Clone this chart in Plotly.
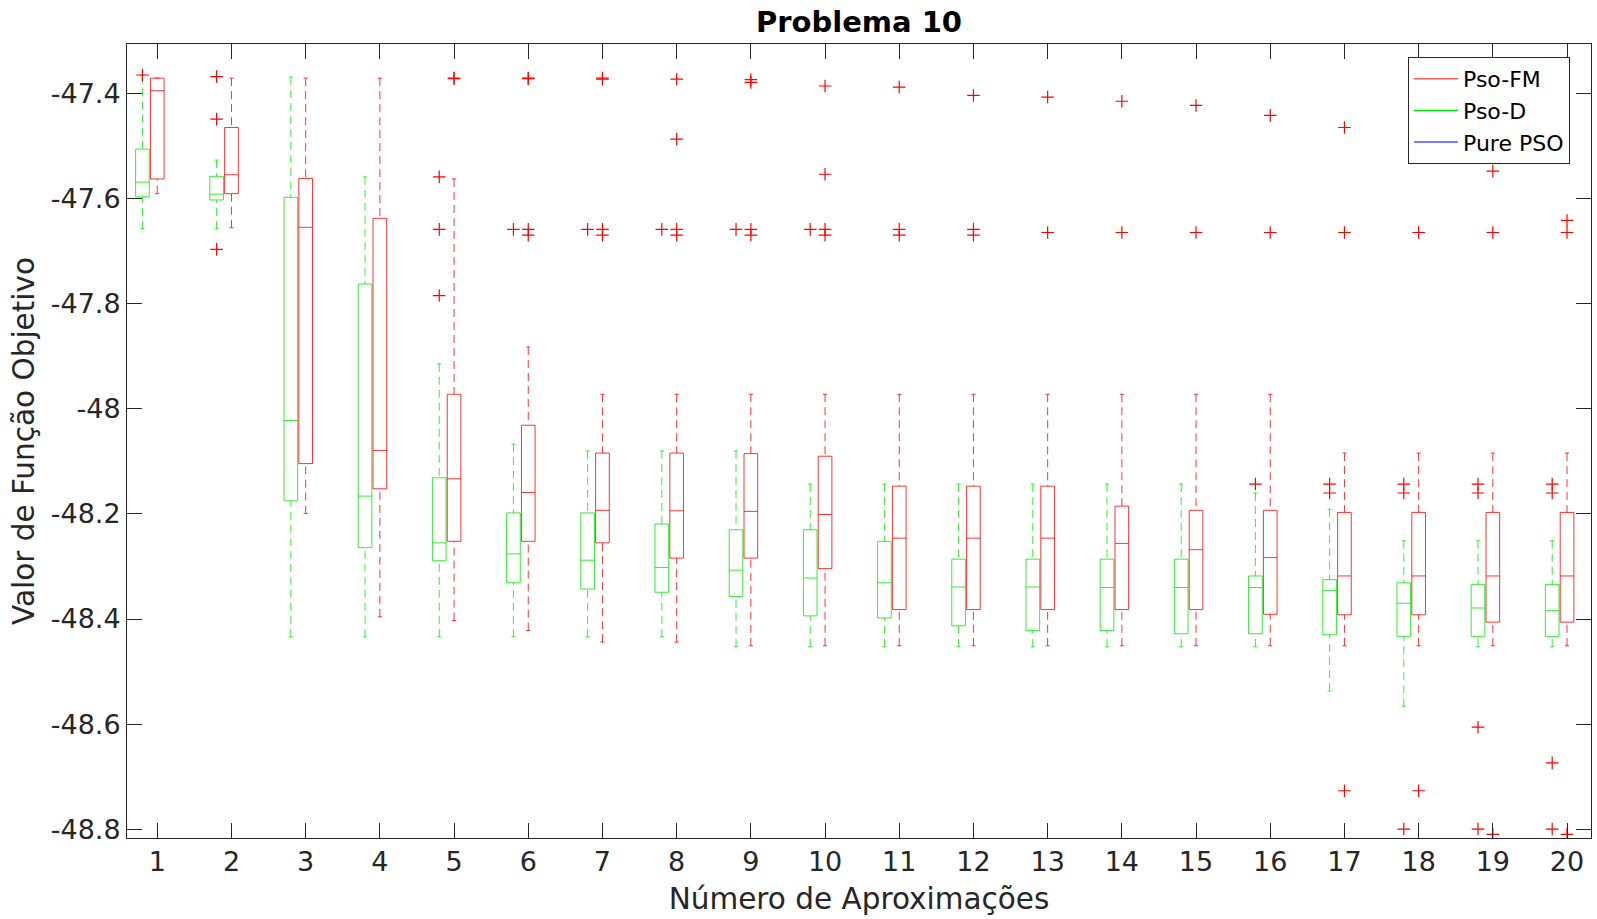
import plotly.graph_objects as go

groups = list(range(1, 21))
tick_labels = [str(g) for g in groups]
y_tick_vals = [-47.4, -47.6, -47.8, -48.0, -48.2, -48.4, -48.6, -48.8]
y_tick_text = ["-47.4", "-47.6", "-47.8", "-48", "-48.2", "-48.4", "-48.6", "-48.8"]

# Pso-D (green)
d_hi = [-47.365, -47.526, -47.368, -47.558, -47.914, -48.067, -48.080, -48.080, -48.080, -48.143,
        -48.143, -48.143, -48.143, -48.143, -48.143, -48.160, -48.191, -48.251, -48.251, -48.251]
d_q3 = [-47.505, -47.557, -47.597, -47.762, -48.131, -48.198, -48.198, -48.219, -48.230, -48.230,
        -48.252, -48.286, -48.286, -48.286, -48.286, -48.318, -48.325, -48.331, -48.334, -48.334]
d_med = [-47.568, -47.591, -48.022, -48.166, -48.255, -48.276, -48.288, -48.302, -48.307, -48.322,
         -48.331, -48.339, -48.339, -48.340, -48.340, -48.340, -48.346, -48.370, -48.379, -48.384]
d_q1 = [-47.596, -47.602, -48.175, -48.264, -48.289, -48.331, -48.343, -48.349, -48.357, -48.394,
        -48.398, -48.413, -48.422, -48.422, -48.428, -48.428, -48.430, -48.433, -48.433, -48.433]
d_lo = [-47.657, -47.657, -48.434, -48.434, -48.434, -48.434, -48.434, -48.434, -48.453, -48.453,
        -48.453, -48.453, -48.453, -48.453, -48.453, -48.453, -48.537, -48.566, -48.453, -48.453]
d_out = {
    1: [-47.364],
    2: [-47.367, -47.448, -47.696],
    5: [-47.558, -47.658, -47.784],
    6: [-47.658],
    7: [-47.658],
    8: [-47.658],
    9: [-47.658],
    10: [-47.658],
    16: [-48.143],
    17: [-48.143, -48.160],
    18: [-48.143, -48.160, -48.800],
    19: [-48.143, -48.160, -48.606, -48.800],
    20: [-48.143, -48.160, -48.674, -48.800],
}

# Pso-FM (red)
fm_hi = [-47.370, -47.370, -47.370, -47.370, -47.562, -47.882, -47.972, -47.972, -47.972, -47.972,
         -47.972, -47.972, -47.972, -47.972, -47.972, -47.972, -48.084, -48.084, -48.084, -48.084]
fm_q3 = [-47.370, -47.464, -47.561, -47.637, -47.972, -48.031, -48.084, -48.084, -48.085, -48.090,
         -48.147, -48.147, -48.147, -48.185, -48.193, -48.193, -48.197, -48.197, -48.197, -48.197]
fm_med = [-47.394, -47.554, -47.654, -48.079, -48.133, -48.159, -48.193, -48.194, -48.195, -48.201,
          -48.246, -48.246, -48.246, -48.256, -48.268, -48.283, -48.318, -48.318, -48.318, -48.318]
fm_q1 = [-47.562, -47.590, -48.104, -48.152, -48.252, -48.252, -48.255, -48.284, -48.284, -48.304,
         -48.382, -48.382, -48.382, -48.382, -48.382, -48.391, -48.392, -48.392, -48.406, -48.406]
fm_lo = [-47.590, -47.655, -48.199, -48.396, -48.403, -48.422, -48.444, -48.444, -48.451, -48.451,
         -48.451, -48.451, -48.451, -48.451, -48.451, -48.451, -48.451, -48.451, -48.451, -48.451]
fm_out = {
    5: [-47.370, -47.371],
    6: [-47.370, -47.371, -47.658, -47.669],
    7: [-47.370, -47.372, -47.658, -47.669],
    8: [-47.372, -47.486, -47.658, -47.669],
    9: [-47.373, -47.378, -47.658, -47.669],
    10: [-47.385, -47.553, -47.658, -47.669],
    11: [-47.387, -47.658, -47.669],
    12: [-47.403, -47.658, -47.669],
    13: [-47.406, -47.664],
    14: [-47.414, -47.664],
    15: [-47.422, -47.664],
    16: [-47.441, -47.664],
    17: [-47.464, -47.664, -48.727],
    18: [-47.664, -48.727],
    19: [-47.547, -47.664, -48.810],
    20: [-47.641, -47.664, -48.810],
}

RED = "rgba(255,0,0,0.8)"
GREEN = "rgba(0,235,0,0.8)"
BLUE = "rgba(60,60,255,0.9)"
OUT_RED = "rgb(255,0,0)"

HALF_W = 0.092
CAP_W = 0.028
D_OFFSET = -0.2

fig = go.Figure()


def add_series(hi, q3, med, q1, lo, outs, offset, color):
    bx, by, mx, my, wx, wy, cx, cy = [], [], [], [], [], [], [], []
    for i, g in enumerate(groups):
        xc = g + offset
        x0, x1 = xc - HALF_W, xc + HALF_W
        bx += [x0, x1, x1, x0, x0, None]
        by += [q1[i], q1[i], q3[i], q3[i], q1[i], None]
        mx += [x0, x1, None]
        my += [med[i], med[i], None]
        if hi[i] > q3[i]:
            wx += [xc, xc, None]
            wy += [hi[i], q3[i], None]
        if lo[i] < q1[i]:
            wx += [xc, xc, None]
            wy += [lo[i], q1[i], None]
        cx += [xc - CAP_W, xc + CAP_W, None, xc - CAP_W, xc + CAP_W, None]
        cy += [hi[i], hi[i], None, lo[i], lo[i], None]
    line = dict(color=color, width=1)
    fig.add_trace(go.Scatter(x=wx, y=wy, mode="lines", line=dict(color=color, width=1, dash="8px,5px"),
                             showlegend=False, hoverinfo="skip"))
    fig.add_trace(go.Scatter(x=cx, y=cy, mode="lines", line=line, showlegend=False, hoverinfo="skip"))
    fig.add_trace(go.Scatter(x=bx, y=by, mode="lines", line=line, showlegend=False, hoverinfo="skip"))
    fig.add_trace(go.Scatter(x=mx, y=my, mode="lines", line=line, showlegend=False, hoverinfo="skip"))
    ox, oy = [], []
    for g, vals in outs.items():
        for v in vals:
            ox.append(g + offset)
            oy.append(v)
    fig.add_trace(go.Scatter(x=ox, y=oy, mode="markers",
                             marker=dict(symbol="cross-thin", size=9,
                                         line=dict(color=OUT_RED, width=1.2)),
                             showlegend=False, hoverinfo="skip"))


add_series(d_hi, d_q3, d_med, d_q1, d_lo, d_out, D_OFFSET, GREEN)
add_series(fm_hi, fm_q3, fm_med, fm_q1, fm_lo, fm_out, 0.0, RED)

for name, col in [("Pso-FM", "rgba(255,90,90,1)"), ("Pso-D", "rgb(0,230,0)"), ("Pure PSO", BLUE)]:
    fig.add_trace(go.Scatter(x=[None], y=[None], mode="lines", name=name,
                             line=dict(color=col, width=1.5)))

AX = "#262626"
axis_common = dict(
    showline=True, linecolor=AX, linewidth=1, mirror="ticks",
    ticks="inside", ticklen=15, tickcolor=AX, tickwidth=1,
    showgrid=False, zeroline=False,
    tickfont=dict(family="DejaVu Sans", size=27, color=AX),
)

fig.update_layout(
    width=1597, height=919,
    margin=dict(l=127, r=6, t=44, b=81),
    paper_bgcolor="white", plot_bgcolor="white",
    font=dict(family="DejaVu Sans", color=AX),
    title=dict(text="<b>Problema 10</b>", x=0.5, xref="paper", xanchor="center",
               y=1 - 22 / 919, yref="container", yanchor="middle",
               font=dict(family="DejaVu Sans", size=29, color="black")),
    xaxis=dict(range=[0.592, 20.323], tickvals=groups, ticktext=tick_labels,
               title=dict(text="Número de Aproximações", font=dict(size=29.5, color=AX), standoff=11),
               **axis_common),
    yaxis=dict(range=[-48.817, -47.305], tickvals=y_tick_vals, ticktext=y_tick_text,
               title=dict(text="Valor de Função Objetivo", font=dict(size=29.5, color=AX), standoff=7),
               **axis_common),
    legend=dict(x=0.875, y=0.9836, xanchor="left", yanchor="top",
                bgcolor="white", bordercolor=AX, borderwidth=1,
                font=dict(family="DejaVu Sans", size=22, color="black"),
                itemwidth=44, tracegroupgap=0),
    showlegend=True,
)

fig.write_html("out.html", config={"displayModeBar": False},
               post_script="document.body.style.margin='0';document.body.style.padding='0';")
